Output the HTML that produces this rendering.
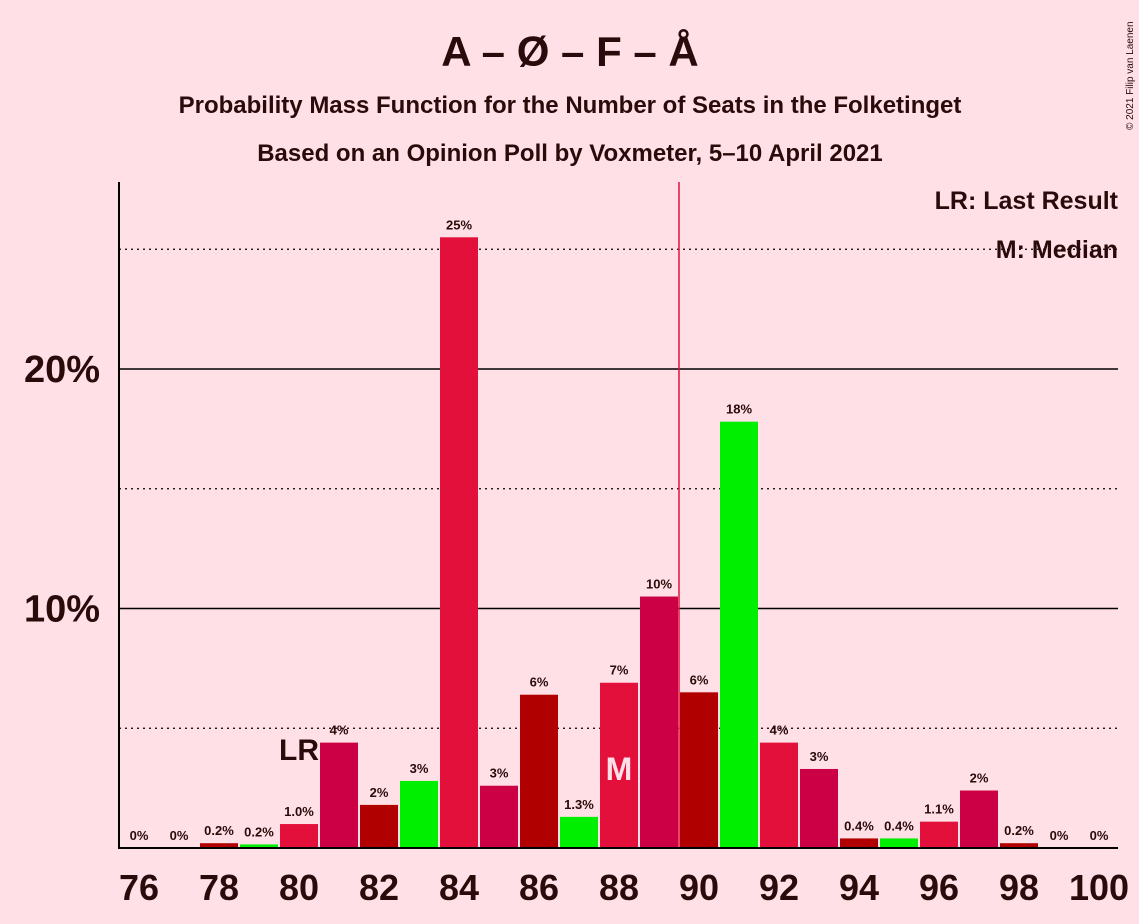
<!DOCTYPE html>
<html><head><meta charset="utf-8"><style>
body{margin:0;background:#FFE0E6;}
svg{display:block;font-family:"Liberation Sans",sans-serif;}
</style></head><body>
<svg id="chart" width="1139" height="924" viewBox="0 0 1139 924">
<rect width="1139" height="924" fill="#FFE0E6"/>
<text x="570" y="66" text-anchor="middle" font-size="42" font-weight="bold" fill="#2a0a0a">A – Ø – F – Å</text>
<text x="570" y="113" text-anchor="middle" font-size="24" font-weight="bold" fill="#2a0a0a">Probability Mass Function for the Number of Seats in the Folketinget</text>
<text x="570" y="161" text-anchor="middle" font-size="24" font-weight="bold" fill="#2a0a0a">Based on an Opinion Poll by Voxmeter, 5–10 April 2021</text>
<text x="1133" y="130" font-size="10" fill="#2a0a0a" transform="rotate(-90 1133 130)">© 2021 Filip van Laenen</text>
<g id="grid"></g>
<g id="bars"></g>
<g id="labels"></g>
<line x1="119" y1="182" x2="119" y2="849" stroke="#000" stroke-width="2"/>
<line x1="119" y1="848" x2="1118" y2="848" stroke="#000" stroke-width="2"/>
<text x="1118" y="209" text-anchor="end" font-size="25" font-weight="bold" fill="#2a0a0a">LR: Last Result</text>
<text x="1118" y="258" text-anchor="end" font-size="25" font-weight="bold" fill="#2a0a0a">M: Median</text>
</svg>
<script>
const seats=[76,77,78,79,80,81,82,83,84,85,86,87,88,89,90,91,92,93,94,95,96,97,98,99,100];
const probs=[0,0,0.2,0.15,1.0,4.4,1.8,2.8,25.5,2.6,6.4,1.3,6.9,10.5,6.5,17.8,4.4,3.3,0.4,0.4,1.1,2.4,0.2,0,0];
const valueLabels=["0%","0%","0.2%","0.2%","1.0%","4%","2%","3%","25%","3%","6%","1.3%","7%","10%","6%","18%","4%","3%","0.4%","0.4%","1.1%","2%","0.2%","0%","0%"];
const xTicks=[76,78,80,82,84,86,88,90,92,94,96,98,100];
const yTicks=[10,20];
const yDotted=[5,15,25];
const lastResult=80, median=89.5;
const ns="http://www.w3.org/2000/svg";
const xs=s=>139+(s-76)*40;
const ys=v=>848-v*23.95;
const colors=["#E3103C","#CC0044","#B00000","#00EE00"];
function mk(tag,attrs,parent){const e=document.createElementNS(ns,tag);for(const k in attrs)e.setAttribute(k,attrs[k]);parent.appendChild(e);return e;}
const grid=document.getElementById('grid'),bars=document.getElementById('bars'),labels=document.getElementById('labels');
yDotted.forEach(v=>{const l=mk('line',{x1:119,x2:1118,y1:ys(v),y2:ys(v),stroke:'#000','stroke-width':1.3,'stroke-dasharray':'2,4'},grid);

});
yTicks.forEach(v=>{const l=mk('line',{x1:119,x2:1118,y1:ys(v),y2:ys(v),stroke:'#000','stroke-width':1.5},grid);


const t=mk('text',{x:100,y:ys(v)+13,'text-anchor':'end','font-size':38,'font-weight':'bold',fill:'#2a0a0a'},labels);t.textContent=v+'%';

});
seats.forEach((s,i)=>{const v=probs[i];const c=colors[(((s-80)%4)+4)%4];
const r=mk('rect',{x:xs(s)-19,y:ys(v),width:38,height:848-ys(v),fill:c},bars);


const t=mk('text',{x:xs(s),y:ys(v)-8,'text-anchor':'middle','font-size':13,'font-weight':'bold',fill:'#2a0a0a'},labels);t.textContent=valueLabels[i];

});
const ml=mk('line',{x1:xs(median),x2:xs(median),y1:182,y2:848,stroke:'#E3103C','stroke-width':1.5},bars);


xTicks.forEach(s=>{const t=mk('text',{x:xs(s),y:900,'text-anchor':'middle','font-size':36,'font-weight':'bold',fill:'#2a0a0a'},labels);t.textContent=s;

});
const lr=mk('text',{x:xs(lastResult),y:ys(probs[seats.indexOf(lastResult)])-64,'text-anchor':'middle','font-size':30,'font-weight':'bold',fill:'#2a0a0a'},labels);lr.textContent='LR';


const m=mk('text',{x:xs(88),y:780,'text-anchor':'middle','font-size':32,'font-weight':'bold',fill:'#FFE0E6'},labels);m.textContent='M';


</script>
</body></html>
